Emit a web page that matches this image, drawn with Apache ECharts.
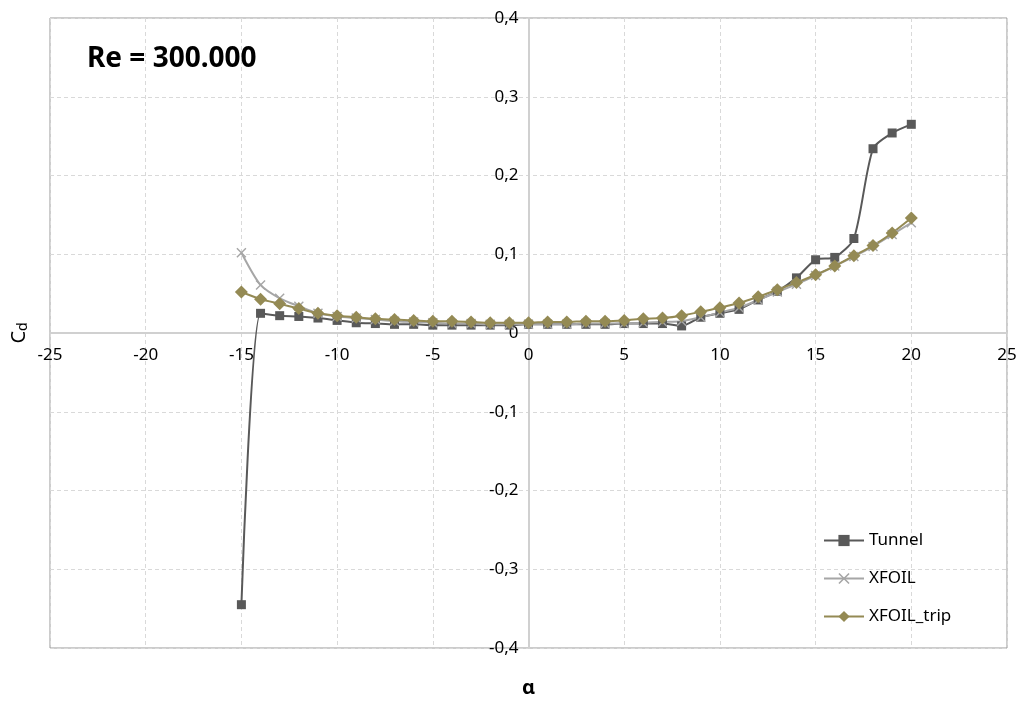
<!DOCTYPE html>
<html><head><meta charset="utf-8">
<script src="https://cdn.jsdelivr.net/npm/echarts@6/dist/echarts.min.js"></script>
<style>html,body{margin:0;padding:0;background:#fff}#c{width:1022px;height:702px}</style>
</head><body><div id="c"></div>
<script>
const alpha = [-15,-14,-13,-12,-11,-10,-9,-8,-7,-6,-5,-4,-3,-2,-1,0,1,2,3,4,5,6,7,8,9,10,11,12,13,14,15,16,17,18,19,20];
const tunnel = [-0.345,0.025,0.022,0.021,0.019,0.016,0.013,0.012,0.011,0.011,0.010,0.010,0.010,0.010,0.010,0.011,0.011,0.011,0.011,0.011,0.012,0.012,0.012,0.009,0.020,0.025,0.030,0.042,0.053,0.070,0.093,0.096,0.120,0.234,0.254,0.265];
const xfoil = [0.102,0.061,0.044,0.034,0.025,0.021,0.019,0.017,0.015,0.014,0.013,0.012,0.012,0.011,0.011,0.011,0.011,0.011,0.012,0.012,0.012,0.013,0.014,0.015,0.020,0.026,0.032,0.042,0.052,0.062,0.073,0.085,0.097,0.110,0.125,0.140];
const xfoilTrip = [0.052,0.043,0.037,0.031,0.025,0.022,0.020,0.018,0.017,0.016,0.015,0.015,0.014,0.013,0.013,0.013,0.014,0.014,0.015,0.015,0.016,0.018,0.019,0.022,0.027,0.032,0.038,0.046,0.055,0.064,0.074,0.085,0.098,0.111,0.127,0.146];
const xTicks = [-25,25,5];
const yTicks = [-0.4,0.4,0.1];

const pair = a => alpha.map((x,i)=>[x,a[i]]);
const font = '"Noto Sans", sans-serif';
const cross = 'path://M0,1L1,0L5,4L9,0L10,1L6,5L10,9L9,10L5,6L1,10L0,9L4,5Z';
const G = {left:50, top:18, width:957, height:630};
const chart = echarts.init(document.getElementById('c'));
chart.setOption({
  animation:false,
  title:{text:'Re = 300.000',left:82,top:40,textStyle:{fontFamily:font,fontSize:28,fontWeight:'bold',color:'#000'}},
  grid:Object.assign({show:true,borderColor:'#999999',borderWidth:1,containLabel:false,outerBoundsMode:'none'},G),
  legend:{orient:'vertical',left:818,top:527,itemWidth:40,itemHeight:14,itemGap:21,
    textStyle:{fontFamily:font,fontSize:17,color:'#000'},
    data:['Tunnel','XFOIL','XFOIL_trip']},
  xAxis:{type:'value',min:xTicks[0],max:xTicks[1],interval:xTicks[2],position:'bottom',offset:-G.height/2,
    name:'α',nameLocation:'middle',nameGap:345,nameTextStyle:{fontFamily:font,fontSize:20,fontWeight:'bold',color:'#000'},
    axisLine:{onZero:false,lineStyle:{color:'#d0d0d0',width:2}},axisTick:{show:false},
    axisLabel:{margin:14,fontFamily:font,fontSize:17,color:'#000'},
    splitLine:{lineStyle:{color:'#d9d9d9',type:[4,3]}}},
  yAxis:{type:'value',min:yTicks[0],max:yTicks[1],interval:yTicks[2],position:'left',offset:-G.width/2,
    name:'{c|C}{d|d}',nameLocation:'middle',nameGap:498,nameRotate:90,
    nameTextStyle:{rich:{c:{fontFamily:font,fontSize:20,color:'#000'},d:{fontFamily:font,fontSize:14,color:'#000',verticalAlign:'bottom',padding:[8,0,0,0]}}},
    axisLine:{show:true,onZero:false,lineStyle:{color:'#d0d0d0',width:2}},axisTick:{show:false},
    axisLabel:{margin:10,fontFamily:font,fontSize:17,color:'#000',formatter:v=>(Math.round(v*10)/10).toString().replace('.',',')},
    splitLine:{lineStyle:{color:'#d9d9d9',type:[4,3]}}},
  series:[
    {name:'Tunnel',type:'line',data:pair(tunnel),smooth:0.25,symbol:'rect',symbolSize:9,
      lineStyle:{color:'#595959',width:2},itemStyle:{color:'#595959'},color:'#595959'},
    {name:'XFOIL',type:'line',data:pair(xfoil),smooth:0.25,symbol:cross,symbolSize:10,
      lineStyle:{color:'#a6a6a6',width:2},itemStyle:{color:'#a6a6a6'},color:'#a6a6a6'},
    {name:'XFOIL_trip',type:'line',data:pair(xfoilTrip),smooth:0.25,symbol:'diamond',symbolSize:13,
      lineStyle:{color:'#948a54',width:2},itemStyle:{color:'#948a54'},color:'#948a54'}
  ]
});
</script></body></html>
